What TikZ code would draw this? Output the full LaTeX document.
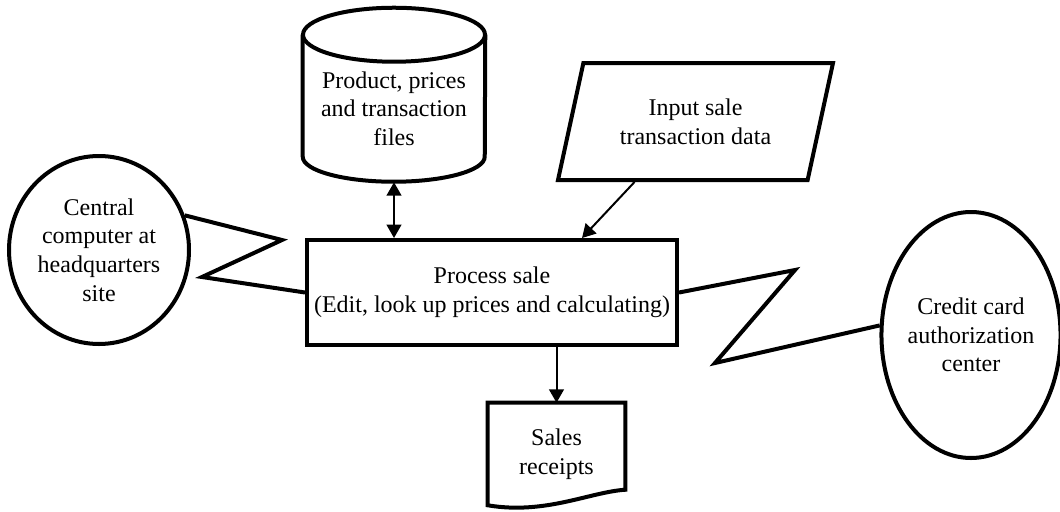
\documentclass[tikz,border=0pt]{standalone}
\usepackage{fontspec}
\setmainfont{Liberation Serif}
\usetikzlibrary{shapes.geometric, arrows.meta}

\begin{document}
\begin{tikzpicture}[
        x=0.75pt, y=-0.75pt, % координаты в пикселях, ось y вниз
        font=\fontsize{18}{21.5}\selectfont,
        every node/.style = {align=center},
        >={Triangle[length=10pt, width=11pt]}, % наконечники стрелок
        line/.style = {line width=3pt, line join=miter},
        link/.style = {line width=1.5pt},
        proc/.style = {rectangle, draw, line width=3pt, minimum width=277.5pt, minimum height=78.75pt},
        site/.style = {ellipse, draw, line width=3pt, inner sep=0pt}, % удаленные узлы
        data/.style = {trapezium, trapezium left angle=65, trapezium right angle=115,
                       trapezium stretches body, draw, line width=3pt,
                       minimum width=206.25pt, minimum height=87.75pt},
    ]

    \useasboundingbox (0,0) rectangle (1060,511);

    \node[proc] (process) at (492,292.5) {Process sale\\(Edit, look up prices and calculating)};
    \node[minimum width=136.5pt, minimum height=110.25pt] (files) at (394,108.5)
        {Product, prices\\and transaction\\files};
    \node[data] (input) at (695.5,121.5) {Input sale\\transaction data};
    \node[site, minimum width=135pt, minimum height=141pt] (hq) at (99,250)
        {Central\\computer at\\headquarters\\site};
    \node[site, minimum width=133.5pt, minimum height=184.5pt] (credit) at (971,335)
        {Credit card\\authorization\\center};
    \node[minimum width=102.75pt, minimum height=76.5pt] (receipt) at (556.5,454) {Sales\\receipts};

    % цилиндр файлов
    \draw[line] (files.north) ellipse [x radius=68.25pt, y radius=20.25pt];
    \draw[line] (files.north west) -- ++(0,122)
        arc[start angle=180, end angle=360, x radius=68.25pt, y radius=18.75pt] -- (files.north east);

    % документ
    \draw[line] (receipt.north west) -- (receipt.north east) -- ++(0,87)
        .. controls (590,492) and (545,515) .. (receipt.south west) -- cycle;

    % линии связи
    \coordinate (zl1) at (282,240);
    \coordinate (zl2) at (202,277);
    \coordinate (zr1) at (795,270);
    \coordinate (zr2) at (715,363);
    \draw[line] (hq.22) -- (zl1) -- (zl2) -- (process.west);
    \draw[line] (process.east) -- (zr1) -- (zr2) -- (credit.174);

    \draw[link, <->] (files.south) -- (files.south |- process.north);
    \draw[link, ->] ([xshift=59.25pt]input.bottom left corner) -- ([xshift=67.5pt]process.north);
    \draw[link, ->] (process.south -| receipt.north) -- (receipt.north);

\end{tikzpicture}
\end{document}
